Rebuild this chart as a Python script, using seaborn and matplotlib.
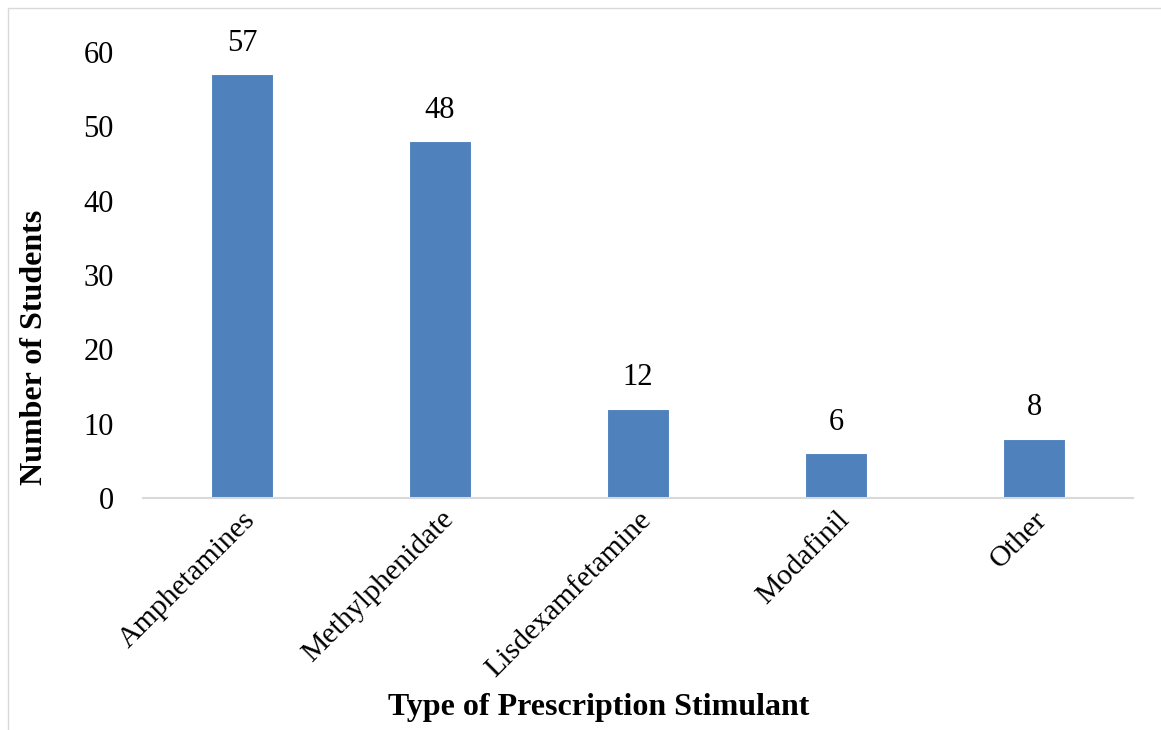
import matplotlib
matplotlib.use("Agg")
import matplotlib.pyplot as plt
import seaborn as sns
import pandas as pd
from matplotlib.patches import Rectangle

categories = ["Amphetamines", "Methylphenidate", "Lisdexamfetamine", "Modafinil", "Other"]
students = [57, 48, 12, 6, 8]
yticks = [0, 10, 20, 30, 40, 50, 60]

df = pd.DataFrame({"stimulant": categories, "count": students})

sns.set_style("white")
plt.rcParams["font.family"] = ["Liberation Serif", "DejaVu Serif"]
plt.rcParams["text.color"] = "black"
plt.rcParams["xtick.color"] = "black"
plt.rcParams["ytick.color"] = "black"
plt.rcParams["axes.labelcolor"] = "black"

fig = plt.figure(figsize=(11.61, 7.3), dpi=100)
ax = fig.add_axes([143 / 1161, 1 - 498 / 730, 990 / 1161, 446 / 730])

sns.barplot(data=df, x="stimulant", y="count", color="#4F81BD", saturation=1,
            width=0.313, edgecolor="white", linewidth=0.8, ax=ax)

ax.bar_label(ax.containers[0], labels=[str(v) for v in students],
             padding=12, fontsize=22, color="black")

ax.set_ylim(0, 60)
ax.set_xlim(-0.5, len(categories) - 0.5)
ax.set_yticks(yticks)
ax.tick_params(axis="y", labelsize=22, length=0, pad=21)
ax.tick_params(axis="x", labelsize=21.5, length=0, pad=6)
plt.setp(ax.get_xticklabels(), rotation=45, ha="right", rotation_mode="anchor")

for s in ["top", "right", "left"]:
    ax.spines[s].set_visible(False)
ax.spines["bottom"].set_color("#D9D9D9")
ax.spines["bottom"].set_linewidth(1.5)

ax.set_xlabel("Type of Prescription Stimulant", fontsize=23, fontweight="bold", va="center")
ax.set_ylabel("Number of Students", fontsize=23, fontweight="bold", va="center")
ax.xaxis.set_label_coords((599 - 143) / 990, (498 - 708) / 446)
ax.yaxis.set_label_coords((35 - 143) / 990, (498 - 347) / 446)

# light frame around the chart area
fig.patches.append(Rectangle((8 / 1161, -0.01), 1.1, 1 - 8 / 730 + 0.01,
                             transform=fig.transFigure, fill=False,
                             edgecolor="#D9D9D9", linewidth=1))

fig.savefig("out.png", dpi=100)
